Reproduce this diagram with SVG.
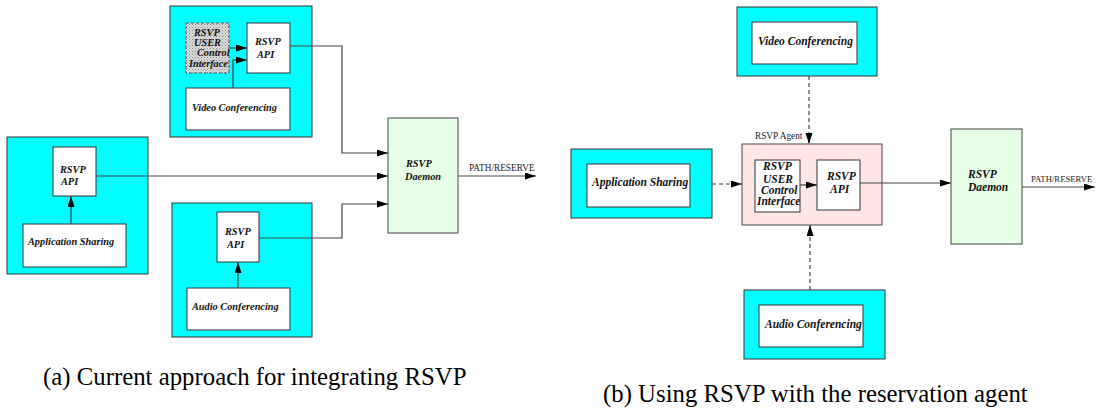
<svg xmlns="http://www.w3.org/2000/svg" width="1096" height="413" viewBox="0 0 1096 413">
<style>
.cy{fill:#00ffff;stroke:#333;stroke-width:1}
.wb{fill:#fff;stroke:#333;stroke-width:1}
.dm{fill:#e6ffe6;stroke:#444;stroke-width:1}
.ag{fill:#ffe6e6;stroke:#444;stroke-width:1}
.ds{fill:url(#dots);stroke:#555;stroke-width:1;stroke-dasharray:3,2}
text{font-family:'Liberation Serif','Times New Roman',Times,serif}
.lb{font-style:italic;font-weight:bold;font-size:10.3px;fill:#111}
.lb2{font-style:italic;font-weight:bold;font-size:11.5px;fill:#111}
.sm{font-size:9.3px;fill:#222}
.cap{font-size:24.8px;fill:#000}
.ln{fill:none;stroke:#444;stroke-width:1.2}
.ar{marker-end:url(#ah)}
.dl{stroke-dasharray:4,3}
</style>
<defs>
<marker id="ah" markerUnits="userSpaceOnUse" markerWidth="12" markerHeight="8" refX="11" refY="3.5" orient="auto">
<path d="M0,0 L11,3.5 L0,7 z" fill="#000"/>
</marker>
<pattern id="dots" width="3" height="3" patternUnits="userSpaceOnUse">
<rect width="3" height="3" fill="#ddd"/>
<rect width="1" height="1" fill="#888"/>
<rect x="1.5" y="1.5" width="1" height="1" fill="#999"/>
</pattern>
</defs>

<!-- (a) -->
<g id="a-video">
<rect class="cy" x="170" y="6" width="142" height="131"/>
<rect class="ds" x="186" y="23" width="43" height="50"/>
<text class="lb" x="194" y="36">RSVP</text>
<text class="lb" x="194" y="46">USER</text>
<text class="lb" x="197" y="56">Control</text>
<text class="lb" x="189" y="67">Interface</text>
<rect class="wb" x="247" y="23" width="43" height="50"/>
<text class="lb" x="255" y="45">RSVP</text>
<text class="lb" x="257" y="58">API</text>
<rect class="wb" x="186" y="88" width="104" height="42"/>
<text class="lb" x="192" y="111">Video Conferencing</text>
</g>
<g id="a-app">
<rect class="cy" x="7" y="137" width="141" height="137"/>
<rect class="wb" x="53" y="147" width="43" height="49"/>
<text class="lb" x="60" y="173">RSVP</text>
<text class="lb" x="61" y="185">API</text>
<rect class="wb" x="23" y="224" width="103" height="43"/>
<text class="lb" x="28" y="245">Application Sharing</text>
</g>
<g id="a-audio">
<rect class="cy" x="172" y="203" width="140" height="134"/>
<rect class="wb" x="217" y="212" width="42" height="50"/>
<text class="lb" x="225" y="235">RSVP</text>
<text class="lb" x="227" y="248">API</text>
<rect class="wb" x="187" y="288" width="103" height="42"/>
<text class="lb" x="192" y="310">Audio Conferencing</text>
</g>
<g id="a-daemon">
<rect class="dm" x="388" y="118" width="70" height="115"/>
<text class="lb" x="406" y="167">RSVP</text>
<text class="lb" x="405" y="180">Daemon</text>
</g>
<text class="sm" x="469" y="171">PATH/RESERVE</text>

<!-- (b) -->
<g id="b-video">
<rect class="cy" x="737" y="7" width="140" height="69"/>
<rect class="wb" x="752" y="22" width="105" height="42"/>
<text class="lb2" x="758" y="45">Video Conferencing</text>
</g>
<g id="b-app">
<rect class="cy" x="571" y="149" width="141" height="69"/>
<rect class="wb" x="587" y="164" width="103" height="43"/>
<text class="lb2" x="592" y="186">Application Sharing</text>
</g>
<g id="b-agent">
<text class="sm" x="755" y="139">RSVP Agent</text>
<rect class="ag" x="742" y="144" width="140" height="81"/>
<rect class="wb" x="755" y="160" width="45" height="52"/>
<text class="lb2" x="763" y="170">RSVP</text>
<text class="lb2" x="763" y="183">USER</text>
<text class="lb2" x="761" y="194">Control</text>
<text class="lb2" x="757" y="205">Interface</text>
<rect class="wb" x="817" y="160" width="43" height="50"/>
<text class="lb2" x="827" y="180">RSVP</text>
<text class="lb2" x="830" y="193">API</text>
</g>
<g id="b-audio">
<rect class="cy" x="744" y="290" width="141" height="69"/>
<rect class="wb" x="759" y="305" width="104" height="42"/>
<text class="lb2" x="765" y="328">Audio Conferencing</text>
</g>
<g id="b-daemon">
<rect class="dm" x="951" y="129" width="71" height="115"/>
<text class="lb2" x="968" y="178">RSVP</text>
<text class="lb2" x="968" y="191">Daemon</text>
</g>
<text class="sm" x="1031" y="182" style="font-size:8.7px">PATH/RESERVE</text>

<g id="connectors">
<path class="ln ar" d="M229,48 H247"/>
<path class="ln ar" d="M233,88 V60 H247"/>
<path class="ln ar" d="M290,46 H342 V153 H388"/>
<path class="ln ar" d="M96,176 H388"/>
<path class="ln ar" d="M71,224 V196"/>
<path class="ln ar" d="M238,288 V262"/>
<path class="ln ar" d="M259,238 H342 V204 H388"/>
<path class="ln ar" d="M458,176 H536"/>
<path class="ln ar dl" d="M712,184 H742"/>
<path class="ln ar dl" d="M809,76 V144"/>
<path class="ln ar dl" d="M810,290 V225"/>
<path class="ln ar" d="M800,185 H817"/>
<path class="ln ar" d="M860,183 H951"/>
<path class="ln ar" d="M1022,187 H1095"/>
</g>

<text class="cap" x="43" y="385">(a) Current approach for integrating RSVP</text>
<text class="cap" x="603" y="402">(b) Using RSVP with the reservation agent</text>
</svg>
